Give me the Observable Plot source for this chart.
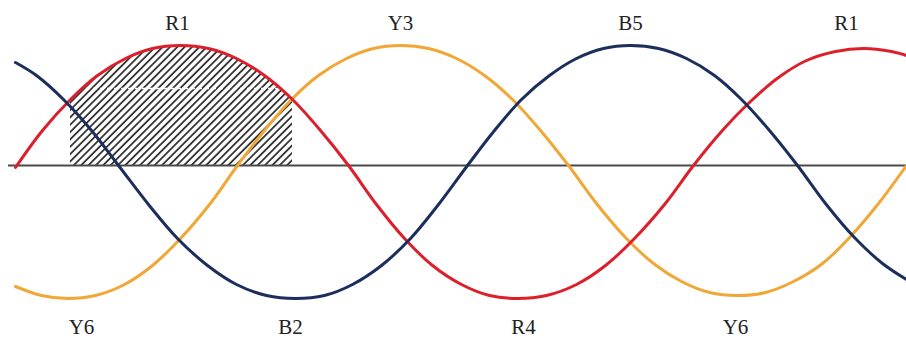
<!DOCTYPE html>
<html>
<head>
<meta charset="utf-8">
<script src="https://cdn.jsdelivr.net/npm/d3@7"></script>
<script src="https://cdn.jsdelivr.net/npm/@observablehq/plot@0.6"></script>
<style>
  html, body { margin: 0; padding: 0; background: #fff; }
  #chart svg { display: block; }
</style>
</head>
<body>
<div id="chart"></div>
<script>
// Values: x position along the time axis, v = instantaneous value (axis = 0)
const redX = [15, 42, 70, 97, 125, 152, 180, 208, 236, 264, 292, 320, 348, 376, 404, 432, 461, 489, 517, 546, 576, 605, 634, 664, 693, 721, 750, 778, 806, 835, 863, 891, 906];
const redV = [-2, 35, 66, 90, 107, 117, 120, 117, 107, 90, 66, 35, 0, -39, -73, -100, -119, -130, -133, -130, -119, -100, -73, -39, 0, 34, 64, 88, 105, 114, 117, 114, 110];

const yellowX = [15, 41, 67, 95, 124, 152, 180, 209, 237, 264, 291, 318, 346, 373, 400, 428, 456, 484, 512, 540, 568, 596, 624, 653, 681, 709, 737, 765, 793, 822, 850, 878, 906];
const yellowV = [-121, -130, -133, -130, -119, -100, -73, -39, 0, 35, 66, 90, 107, 117, 120, 117, 107, 90, 66, 35, 0, -38, -71, -98, -116, -127, -130, -127, -116, -98, -71, -38, 0];

const blueX = [15, 36, 63, 91, 118, 148, 177, 207, 236, 266, 295, 324, 352, 381, 410, 438, 467, 494, 521, 549, 576, 603, 630, 658, 686, 714, 741, 769, 797, 825, 853, 882, 906];
const blueV = [103, 90, 66, 35, 0, -39, -73, -100, -119, -130, -133, -130, -119, -100, -73, -39, 0, 35, 66, 90, 107, 117, 120, 117, 107, 90, 66, 35, 0, -38, -71, -98, -114];

const topLabels = ["R1", "Y3", "B5", "R1"];
const topLabelX = [177, 400, 630, 846];
const bottomLabels = ["Y6", "B2", "R4", "Y6"];
const bottomLabelX = [81, 290, 523, 735];

const hatchFrom = 68, hatchTo = 294;   // shaded interval under R
const dashedLevel = 77;                // dashed level inside shaded area
const labelTopV = 142, labelBottomV = -162;
const axisFrom = 8, axisTo = 906;

const toRows = (xs, vs, s) => xs.map((x, i) => ({x, v: vs[i], s}));
const red = toRows(redX, redV, "R");
const yellow = toRows(yellowX, yellowV, "Y");
const blue = toRows(blueX, blueV, "B");
const hatch = red.filter(d => d.x >= hatchFrom && d.x <= hatchTo);
const tops = topLabels.map((t, i) => ({t, x: topLabelX[i], v: labelTopV}));
const bottoms = bottomLabels.map((t, i) => ({t, x: bottomLabelX[i], v: labelBottomV}));

const C_RED = "#dc1f2b", C_YEL = "#f1a735", C_BLUE = "#1c2f5c";

function defs() {
  const ns = "http://www.w3.org/2000/svg";
  const g = document.createElementNS(ns, "defs");
  const p = document.createElementNS(ns, "pattern");
  p.setAttribute("id", "hatch");
  p.setAttribute("patternUnits", "userSpaceOnUse");
  p.setAttribute("width", "5.2");
  p.setAttribute("height", "5.2");
  p.setAttribute("patternTransform", "rotate(45)");
  const l = document.createElementNS(ns, "line");
  l.setAttribute("x1", "2.6"); l.setAttribute("y1", "0");
  l.setAttribute("x2", "2.6"); l.setAttribute("y2", "5.2");
  l.setAttribute("stroke", "#333");
  l.setAttribute("stroke-width", "1.8");
  p.appendChild(l);
  g.appendChild(p);
  return g;
}

const chart = Plot.plot({
  width: 906,
  height: 338,
  margin: 0,
  x: {domain: [0, 906], axis: null},
  y: {domain: [-173, 165], axis: null},
  style: {background: "#fff"},
  marks: [
    defs,
    Plot.areaY(hatch, {x: "x", y: "v", fill: "url(#hatch)", curve: "catmull-rom"}),
    Plot.ruleY([dashedLevel], {x1: hatchFrom + 4, x2: hatchTo - 4, stroke: "#fff", strokeWidth: 1.5, strokeDasharray: "4,3"}),
    Plot.ruleY([0], {x1: axisFrom, x2: axisTo, stroke: "#4a4a4a", strokeWidth: 2}),
    Plot.line(yellow, {x: "x", y: "v", stroke: C_YEL, strokeWidth: 3, curve: "catmull-rom"}),
    Plot.line(red, {x: "x", y: "v", stroke: C_RED, strokeWidth: 3, curve: "catmull-rom"}),
    Plot.line(blue, {x: "x", y: "v", stroke: C_BLUE, strokeWidth: 3, curve: "catmull-rom"}),
    Plot.text(tops, {x: "x", y: "v", text: "t", fontSize: 21, fill: "#222", fontFamily: "Liberation Serif, Times New Roman, serif"}),
    Plot.text(bottoms, {x: "x", y: "v", text: "t", fontSize: 21, fill: "#222", fontFamily: "Liberation Serif, Times New Roman, serif"})
  ]
});
document.getElementById("chart").appendChild(chart);
</script>
</body>
</html>
